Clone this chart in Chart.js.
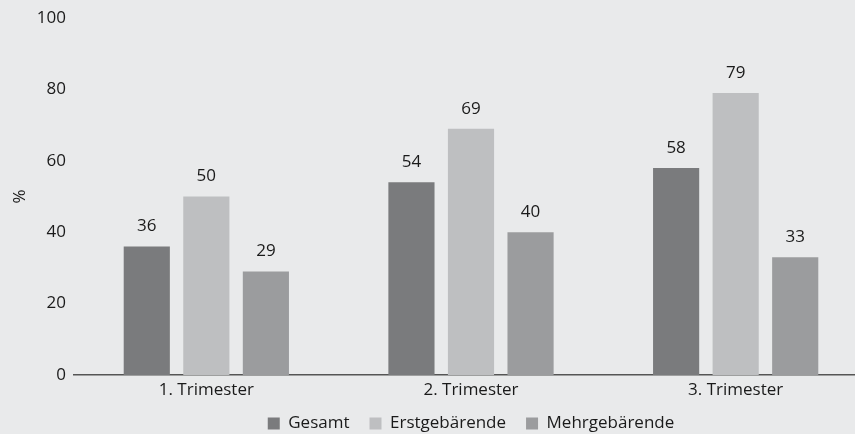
<!DOCTYPE html>
<html>
<head>
<meta charset="utf-8">
<script src="https://cdn.jsdelivr.net/npm/chart.js@4/dist/chart.umd.min.js"></script>
<style>
  html, body { margin:0; padding:0; background:#e9eaeb; overflow:hidden; }
  #wrap { width:855px; height:434px; overflow:hidden; }
  canvas { display:block; }
</style>
</head>
<body>
<div id="wrap"><canvas id="chart" width="868" height="444" style="width:868px;height:444px"></canvas></div>
<script>
var categories = ['1. Trimester', '2. Trimester', '3. Trimester']
var gesamt = [36, 54, 58]
var erstgebaerende = [50, 69, 79]
var mehrgebaerende = [29, 40, 33]
var seriesNames = ['Gesamt', 'Erstgebärende', 'Mehrgebärende']
var yTicks = [0, 20, 40, 60, 80, 100]

var FONT = '"Open Sans", "Noto Sans", sans-serif'

// draws the value above each bar
var valueLabels = {
  id: 'valueLabels',
  afterDatasetsDraw: function(chart) {
    var ctx = chart.ctx
    ctx.save()
    ctx.font = '17px ' + FONT
    ctx.fillStyle = '#1a1a1a'
    ctx.textAlign = 'center'
    ctx.textBaseline = 'middle'
    chart.data.datasets.forEach(function(ds, i) {
      chart.getDatasetMeta(i).data.forEach(function(bar, j) {
        ctx.fillText(ds.data[j], bar.x, bar.y - 20)
      })
    })
    ctx.restore()
  }
}

var config = {
  type: 'bar',
  data: {
    labels: categories,
    datasets: [
      {label: seriesNames[0], data: gesamt, backgroundColor: '#7a7b7d'},
      {label: seriesNames[1], data: erstgebaerende, backgroundColor: '#bebfc1'},
      {label: seriesNames[2], data: mehrgebaerende, backgroundColor: '#9b9c9e'}
    ]
  },
  options: {
    responsive: false,
    animation: false,
    layout: {padding: {top: 18, right: 0, left: 0, bottom: 2}},
    datasets: {
      bar: {categoryPercentage: 0.675, barPercentage: 0.775}
    },
    scales: {
      x: {
        grid: {display: false},
        border: {display: true, color: '#555', width: 1.5},
        ticks: {color: '#1a1a1a', font: {family: FONT, size: 17}, padding: -3},
        afterFit: function(s) { s.height = 20 }
      },
      y: {
        min: 0, max: 100,
        afterBuildTicks: function(s) { s.ticks = yTicks.map(function(v) { return {value: v} }) },
        grid: {display: false},
        border: {display: false},
        ticks: {color: '#1a1a1a', font: {family: FONT, size: 17}, padding: 0},
        title: {display: true, text: '%', color: '#1a1a1a', font: {family: FONT, size: 17}, padding: {top: 10, bottom: 0}},
        afterFit: function(s) { s.width = 74 }
      }
    },
    plugins: {
      legend: {
        position: 'bottom',
        fullSize: false,
        labels: {
          color: '#1a1a1a',
          font: {family: FONT, size: 17},
          boxWidth: 12, boxHeight: 12,
          padding: 20
        }
      },
      tooltip: {enabled: false}
    }
  },
  plugins: [valueLabels]
}

var myChart = new Chart(document.getElementById('chart'), config)
</script>
</body>
</html>
